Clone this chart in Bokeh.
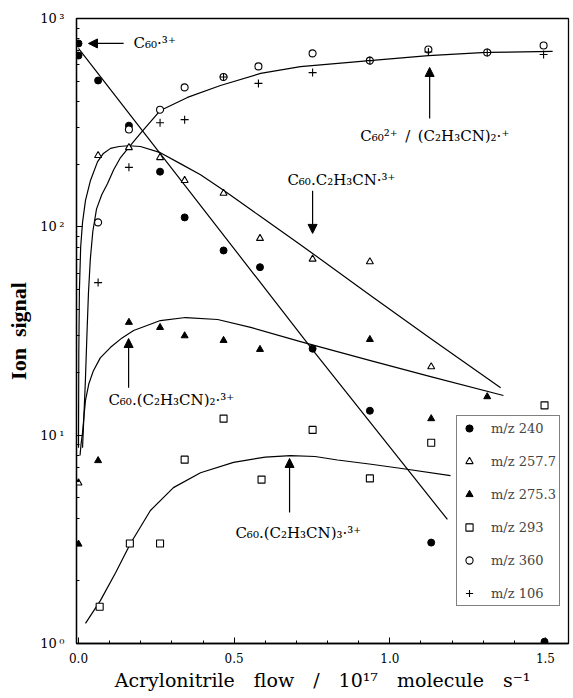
from bokeh.plotting import figure
from bokeh.models import (Label, Arrow, NormalHead, FixedTicker,
                          CustomJSTickFormatter, PrintfTickFormatter)
from bokeh.embed import file_html
from bokeh.resources import INLINE

# ---------------- data ----------------
m240_x = [0, 0, 0.063, 0.162, 0.262, 0.341, 0.466, 0.583, 0.752, 0.936, 1.133, 1.497]
m240_y = [759, 664, 504, 306, 184, 111, 77, 64, 26, 13.1, 3.05, 1.02]

m2577_x = [0, 0.063, 0.162, 0.262, 0.341, 0.466, 0.583, 0.752, 0.936, 1.133]
m2577_y = [5.9, 220, 240, 215, 167, 145, 88, 70, 68, 21.3]

m2753_x = [0, 0.063, 0.162, 0.262, 0.341, 0.466, 0.583, 0.936, 1.133, 1.313]
m2753_y = [3.0, 7.55, 34.8, 32.9, 30, 28.5, 25.8, 28.8, 12.0, 15.3]

m293_x = [0.068, 0.165, 0.262, 0.341, 0.466, 0.588, 0.752, 0.936, 1.133, 1.497]
m293_y = [1.5, 3.02, 3.02, 7.63, 12.0, 6.12, 10.6, 6.2, 9.2, 13.9]

m360_x = [0.063, 0.162, 0.262, 0.341, 0.466, 0.578, 0.752, 0.936, 1.124, 1.313, 1.494]
m360_y = [105, 293, 365, 467, 524, 589, 680, 628, 710, 687, 742]

m106_x = [0.063, 0.162, 0.262, 0.341, 0.466, 0.578, 0.752, 0.936, 1.124, 1.313, 1.494]
m106_y = [54, 193, 316, 327, 524, 488, 550, 628, 690, 687, 672]

# fitted curves
fit240_x = [0.0, 0.752, 1.185]
fit240_y = [718, 25.7, 3.94]

fit_top_x = [0.013, 0.017, 0.022, 0.027, 0.032, 0.038, 0.046, 0.058, 0.075, 0.093,
             0.113, 0.135, 0.161, 0.199, 0.263, 0.35, 0.456, 0.585, 0.713, 0.935,
             1.124, 1.31, 1.523]
fit_top_y = [8.7, 12, 18, 30, 48, 70, 95, 122, 143, 161,
             188, 215, 240, 281, 362, 418, 477, 545, 588, 628,
             664, 687, 695]

fit2577_x = [0.0, 0.001, 0.003, 0.007, 0.013, 0.0225, 0.0385, 0.061, 0.08, 0.103,
             0.13, 0.161, 0.199, 0.263, 0.33, 0.392, 0.466, 0.585, 0.713, 0.752,
             0.938, 1.131, 1.356]
fit2577_y = [8.7, 25, 50, 80, 105, 134, 167, 205, 225, 238,
             243, 245, 243, 227, 200, 178, 150, 112, 82, 74.5,
             46.8, 29.1, 16.9]

fit2753_x = [0.005, 0.008, 0.0128, 0.018, 0.0225, 0.033, 0.048, 0.07, 0.103, 0.14,
             0.177, 0.263, 0.344, 0.447, 0.553, 0.713, 0.938, 1.131, 1.365]
fit2753_y = [8.0, 9.0, 10.2, 12.5, 14.7, 17.6, 20.4, 23.5, 26.4, 29.3,
             31.8, 35.5, 36.7, 35.9, 32.9, 28.1, 22.8, 19.1, 15.5]

fit293_x = [0.0225, 0.0707, 0.12, 0.167, 0.231, 0.305, 0.392, 0.498, 0.60, 0.681,
            0.76, 0.832, 0.94, 1.044, 1.195]
fit293_y = [1.25, 1.61, 2.2, 3.02, 4.35, 5.6, 6.6, 7.4, 7.85, 7.98,
            7.9, 7.6, 7.25, 6.9, 6.4]

x_ticks = [0, 0.5, 1.0, 1.5]
x_minor = [0.1, 0.2, 0.3, 0.4, 0.6, 0.7, 0.8, 0.9, 1.1, 1.2, 1.3, 1.4]
y_ticks = [1, 10, 100, 1000]
y_minor = [m * d for d in (1, 10, 100) for m in range(2, 10)]

# ---------------- figure ----------------
p = figure(width=571, height=696, y_axis_type="log",
           x_range=(-0.0064, 1.574), y_range=(1, 1000),
           output_backend="svg", toolbar_location=None,
           min_border_left=76, min_border_top=18, min_border_right=3,
           min_border_bottom=53)
p.xgrid.visible = False
p.ygrid.visible = False
p.outline_line_color = "black"
p.outline_line_width = 1.3
p.background_fill_color = "white"
p.border_fill_color = "white"

LW = 1.2
for xs, ys in [(fit240_x, fit240_y), (fit_top_x, fit_top_y), (fit2577_x, fit2577_y),
               (fit2753_x, fit2753_y), (fit293_x, fit293_y)]:
    p.line(xs, ys, line_color="black", line_width=LW, line_join="round")

S = 7
p.scatter(m240_x, m240_y, marker="circle", size=S, fill_color="black",
          line_color="black", legend_label="m/z 240")
p.scatter(m2577_x, m2577_y, marker="triangle", size=S, fill_color="white",
          line_color="black", line_width=1.1, legend_label="m/z 257.7")
p.scatter(m2753_x, m2753_y, marker="triangle", size=S, fill_color="black",
          line_color="black", legend_label="m/z 275.3")
p.scatter(m293_x, m293_y, marker="square", size=S, fill_color="white",
          line_color="black", line_width=1.1, legend_label="m/z 293")
p.scatter(m360_x, m360_y, marker="circle", size=S, fill_color="white",
          line_color="black", line_width=1.1, legend_label="m/z 360")
p.scatter(m106_x, m106_y, marker="cross", size=8, line_color="black",
          line_width=1.1, legend_label="m/z 106")

# ---------------- axes ----------------
p.xaxis.ticker = FixedTicker(ticks=x_ticks, minor_ticks=x_minor)
p.xaxis.formatter = PrintfTickFormatter(format="%.1f")
p.yaxis.ticker = FixedTicker(ticks=y_ticks, minor_ticks=y_minor)
p.yaxis.formatter = CustomJSTickFormatter(code="""
const sup = {0: '\u2070', 1: '\u00b9', 2: '\u00b2', 3: '\u00b3'};
const e = Math.round(Math.log10(tick));
return '10\u2009' + sup[e];
""")
for ax in (p.xaxis[0], p.yaxis[0]):
    ax.axis_line_color = "black"
    ax.axis_line_width = 1.3
    ax.major_tick_out = 0
    ax.major_tick_in = 6
    ax.minor_tick_out = 0
    ax.minor_tick_in = 3
    ax.major_tick_line_color = "black"
    ax.minor_tick_line_color = "black"
    ax.major_label_text_font = "DejaVu Serif"
    ax.major_label_text_font_size = "12px"
    ax.major_label_text_color = "black"
    ax.axis_label_text_color = "black"

p.xaxis.major_label_standoff = 9
p.yaxis.major_label_standoff = 12
p.yaxis.major_label_text_font_size = "13px"
p.xaxis.axis_label = "Acrylonitrile\u2003flow\u2003/\u200310\u00b9\u2077\u2003molecule\u2003s\u207b\u00b9"
p.xaxis.axis_label_text_font = "DejaVu Serif"
p.xaxis.axis_label_text_font_size = "19px"
p.xaxis.axis_label_text_font_style = "normal"
p.xaxis.axis_label_standoff = 3
p.yaxis.axis_label = "Ion\u2002signal"
p.yaxis.axis_label_text_font = "Liberation Serif"
p.yaxis.axis_label_text_font_size = "22px"
p.yaxis.axis_label_text_font_style = "bold"
p.yaxis.axis_label_standoff = 6

# ---------------- legend ----------------
lg = p.legend[0]
lg.location = (380, 37)
lg.label_text_font = "DejaVu Serif"
lg.label_text_font_size = "13px"
lg.glyph_width = 18
lg.glyph_height = 18
lg.label_height = 18
lg.label_standoff = 13
lg.spacing = 15
lg.padding = 3
lg.margin = 0
lg.border_line_color = "black"
lg.border_line_width = 1.2
lg.background_fill_alpha = 1.0

# ---------------- annotations ----------------
FONT = "DejaVu Serif"
FS = "15px"
labels = [
    (0.177, 759, "C\u2086\u2080\u00b7\u00b3\u207a"),
    (0.905, 274, "C\u2086\u2080\u00b2\u207a\u2002/\u2002(C\u2082H\u2083CN)\u2082\u00b7\u207a"),
    (0.671, 167, "C\u2086\u2080.C\u2082H\u2083CN\u00b7\u00b3\u207a"),
    (0.096, 14.7, "C\u2086\u2080.(C\u2082H\u2083CN)\u2082\u00b7\u00b3\u207a"),
    (0.504, 3.4, "C\u2086\u2080.(C\u2082H\u2083CN)\u2083\u00b7\u00b3\u207a"),
]
for lx, ly, t in labels:
    p.add_layout(Label(x=lx, y=ly, text=t, text_font=FONT, text_font_size=FS,
                       text_baseline="middle", text_align="left",
                       text_color="black"))

arrows = [
    (0.145, 759, 0.032, 759),
    (1.128, 331, 1.128, 582),
    (0.752, 149, 0.752, 93),
    (0.161, 16.9, 0.161, 29.1),
    (0.678, 4.25, 0.678, 7.73),
]
for xs, ys, xe, ye in arrows:
    p.add_layout(Arrow(end=NormalHead(size=9, fill_color="black", line_color="black"),
                       x_start=xs, y_start=ys, x_end=xe, y_end=ye,
                       line_color="black", line_width=1.2))

open("out.html", "w").write(file_html(p, INLINE))
